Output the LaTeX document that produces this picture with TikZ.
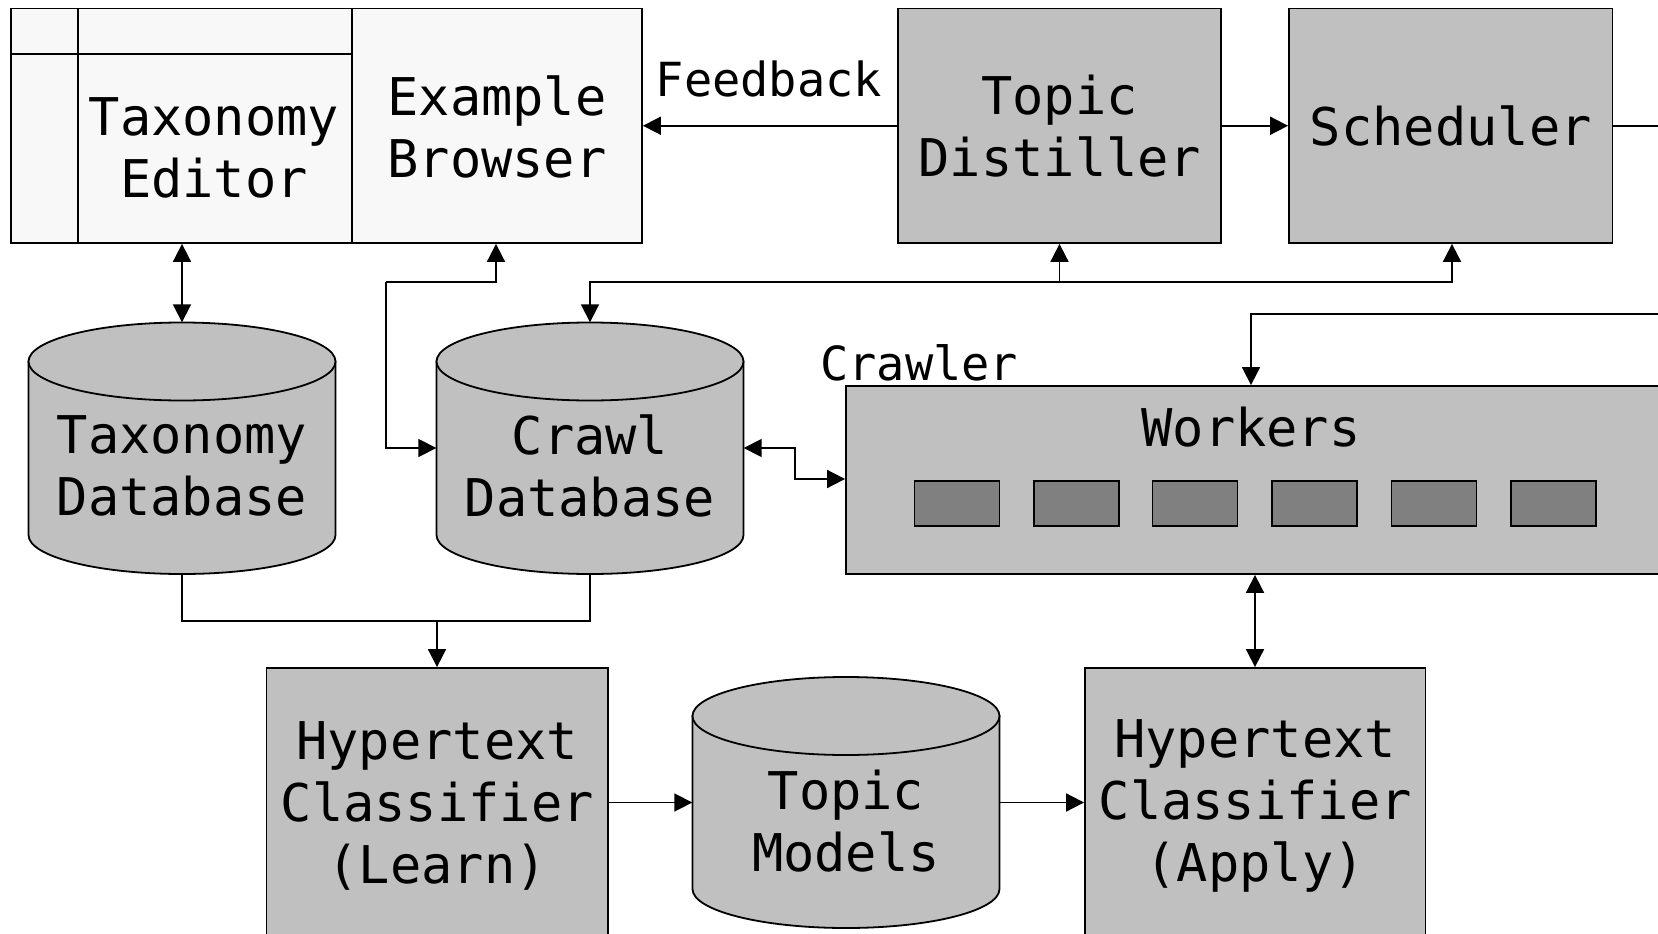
\documentclass[tikz,border=0pt]{standalone}
\usepackage{fontspec}
\newfontfamily\vmono{DejaVu Sans Mono}
\usetikzlibrary{arrows.meta}
\definecolor{boxgrey}{HTML}{C0C0C0}
\definecolor{darkgrey}{HTML}{808080}
\definecolor{paper}{HTML}{F8F8F8}
\tikzset{
  box/.style={draw=black, line width=1.8pt, inner sep=0pt, fill=boxgrey, anchor=center},
  label/.style={inner sep=0pt, align=center, font=\vmono\fontsize{52}{62}\selectfont},
  smalllabel/.style={inner sep=0pt, align=center, font=\vmono\fontsize{47}{56}\selectfont},
  conn/.style={draw=black, line width=1.8pt, -{Triangle[length=18pt,width=18pt]}},
  biconn/.style={draw=black, line width=1.8pt, {Triangle[length=18pt,width=18pt]}-{Triangle[length=18pt,width=18pt]}},
  plain/.style={draw=black, line width=1.8pt},
  cylfill/.style={fill=boxgrey, draw=black, line width=1.8pt},
  worker/.style={draw=black, line width=1.8pt, fill=darkgrey, minimum width=85pt, minimum height=45pt, inner sep=0pt}
}
\newcommand{\dbcyl}[5]{% name, cx, top, bottom, half width
  \pgfmathsetmacro{\cylL}{#2-#5}\pgfmathsetmacro{\cylR}{#2+#5}
  \pgfmathsetmacro{\cylT}{#3+39}\pgfmathsetmacro{\cylB}{#4-39}
  \path[cylfill] (\cylL,\cylT) -- (\cylL,\cylB) arc[start angle=180, end angle=0, x radius=#5, y radius=39] -- (\cylR,\cylT) -- cycle;
  \path[cylfill] (#2,\cylT) ellipse[x radius=#5, y radius=39];
  \node[minimum width={2*#5*1pt}, minimum height={(#4-#3)*1pt}, inner sep=0pt] (#1) at (#2,{(#3+#4)/2}) {};
}
\begin{document}
\begin{tikzpicture}[x=1pt,y=-1pt]
\useasboundingbox (0,0) rectangle (1658,934);
\begin{scope}
\clip (0,0) rectangle (1658,934);
% top-left editor / browser
\node[box, fill=paper, minimum width=341.4pt, minimum height=234.5pt] (editor) at (181.3,125.75) {};
\node[box, fill=paper, minimum width=290pt, minimum height=234.5pt] (browser) at (497,125.75) {};
\draw[plain] (78,8.5) -- (78,243);
\draw[plain] (10.6,54) -- (352,54);
\node[label] (taxedtext) at (214,148) {Taxonomy\\Editor};
\node[label] (browsertext) at (497,127) {Example\\Browser};
% distiller and scheduler
\node[box, minimum width=323pt, minimum height=234.5pt] (distiller) at (1059.5,125.75) {};
\node[label] (distillertext) at (1059.5,126) {Topic\\Distiller};
\node[box, minimum width=323.5pt, minimum height=234.5pt] (scheduler) at (1450.75,125.75) {};
\node[label] (schedtext) at (1450.75,126) {Scheduler};
\coordinate (schedout) at (1670,125.75);
\node[smalllabel] (feedback) at (769,79) {Feedback};
% databases
\dbcyl{taxdb}{182}{322.5}{574}{153.5}
\node[label] (taxdbtext) at (182,466) {Taxonomy\\Database};
\dbcyl{crawldb}{590}{322.5}{574}{153.5}
\node[label] (crawldbtext) at (590,466) {Crawl\\Database};
\dbcyl{topicdb}{846}{677}{928}{153.5}
\node[label] (topicdbtext) at (846,821) {Topic\\Models};
% crawler
\node[box, minimum width=834pt, minimum height=188pt] (crawler) at (1263,480) {};
\node[smalllabel, anchor=base west] (crawlerlabel) at (820,380) {Crawler};
\node[label] (workerstext) at (1251,427) {Workers};
\foreach \i/\cx in {1/957,2/1076.5,3/1195,4/1314.5,5/1434,6/1553.5}
  \node[worker] (w\i) at (\cx,503.5) {};
\coordinate (crawlin) at (1670,314);
% classifiers
\node[box, minimum width=341.5pt, minimum height=270pt] (learn) at (437.25,803) {};
\node[label] (learntext) at (437.25,805.5) {Hypertext\\Classifier\\(Learn)};
\node[box, minimum width=340.5pt, minimum height=270pt] (apply) at (1255.25,803) {};
\node[label] (applytext) at (1255.25,805.5) {Hypertext\\Classifier\\(Apply)};
% connectors
\draw[conn] (distiller.west |- 0,125.75) -- (browser.east |- 0,125.75);
\draw[conn] (distiller.east |- 0,125.75) -- (scheduler.west |- 0,125.75);
\draw[plain] (scheduler.east |- 0,125.75) -- (schedout);
\draw[biconn] (editor.south -| 182,0) -- (taxdb.north);
\draw[conn] (crawldb.north |- 0,282) -| (distiller.south);
\draw[conn] (crawldb.north |- 0,282) -| (scheduler.south -| 1452,0);
\draw[conn] (1059.5,282) -- (crawldb.north |- 0,282) -- (crawldb.north);
\draw[conn] (386,282) -- (386,448) -- (crawldb.west |- 0,448);
\draw[conn] (386,282) -- (496,282) -- (browser.south -| 496,0);
\draw[biconn] (crawldb.east |- 0,448) -- (795,448) -- (795,479) -- (crawler.west |- 0,479);
\draw[conn] (crawlin) -- (1251,314) -- (crawler.north -| 1251,0);
\draw[biconn] (crawler.south -| 1255,0) -- (apply.north -| 1255,0);
\draw[plain] (taxdb.south) -- (182,621) -- (590,621) -- (crawldb.south);
\draw[conn] (437,621) -- (learn.north -| 437,0);
\draw[conn] (learn.east |- 0,802.5) -- (topicdb.west |- 0,802.5);
\draw[conn] (topicdb.east |- 0,802.5) -- (apply.west |- 0,802.5);
\end{scope}
\end{tikzpicture}
\end{document}
